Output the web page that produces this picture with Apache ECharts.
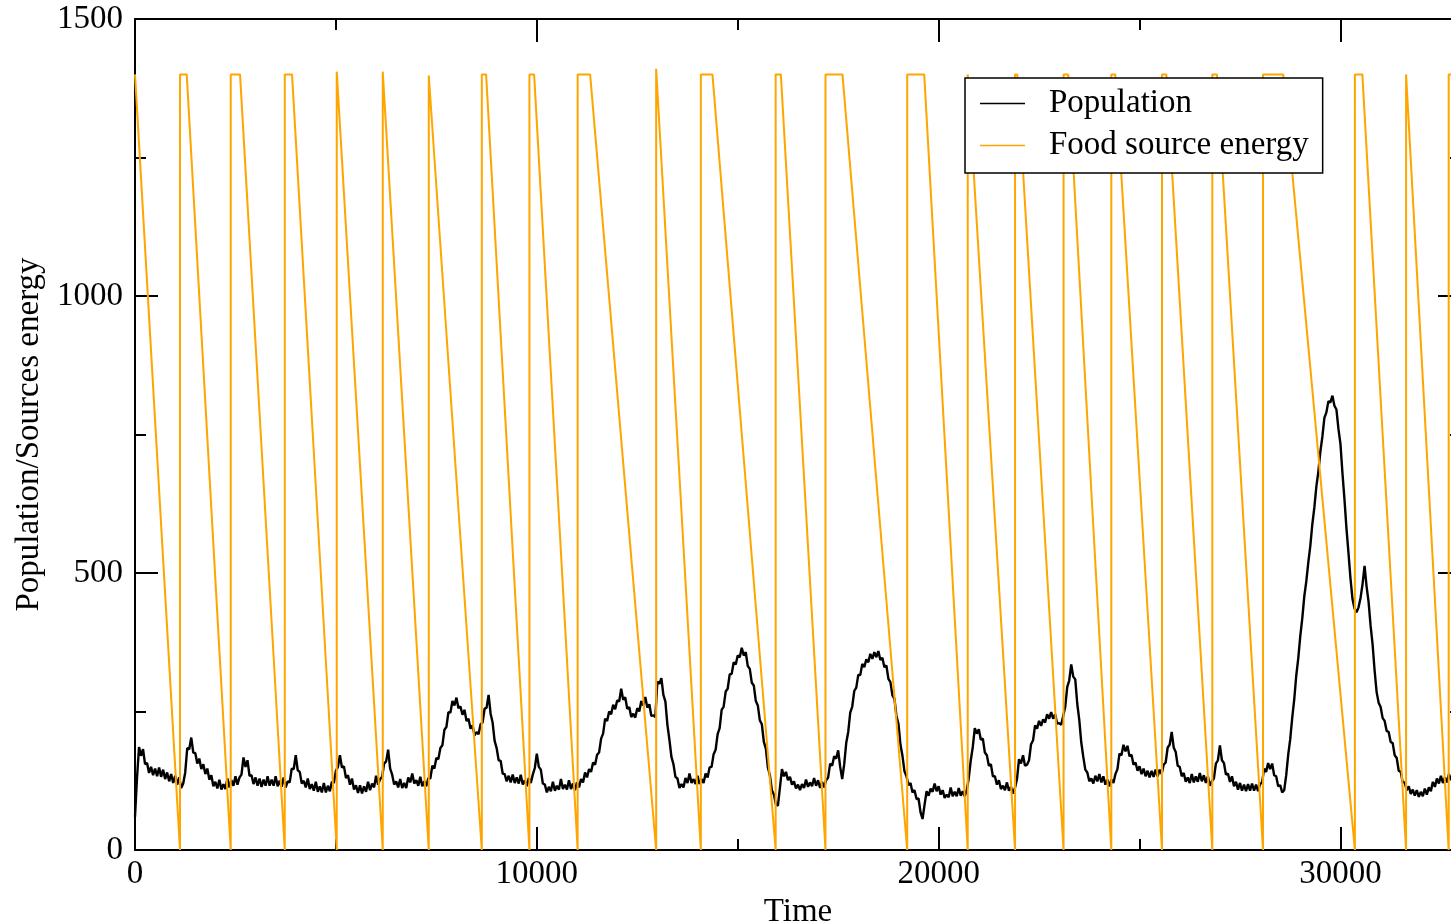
<!DOCTYPE html>
<html>
<head>
<meta charset="utf-8">
<script src="https://cdn.jsdelivr.net/npm/echarts@6/dist/echarts.min.js"></script>
<style>
  html, body { margin: 0; padding: 0; background: #fff; }
  #chart { width: 1451px; height: 924px; }
</style>
</head>
<body>
<div id="chart"></div>
<script>
// population, one value every popStep time units (noise band included)
const popStep = 50;
const popValues = [
  60, 130, 186, 170, 182, 155, 157, 139, 150, 135, 147, 133, 149, 132, 145, 128, 140, 124, 137, 121,
  134, 118, 131, 112, 120, 140, 184, 182, 203, 176, 175, 156, 165, 146, 155, 137, 147, 127, 135, 115,
  123, 111, 127, 109, 119, 110, 129, 113, 126, 116, 133, 118, 131, 136, 167, 150, 162, 134, 135, 119,
  131, 116, 129, 114, 127, 116, 133, 116, 127, 116, 133, 115, 125, 114, 131, 113, 124, 122, 147, 146,
  171, 144, 141, 120, 125, 113, 129, 110, 119, 107, 123, 105, 115, 104, 121, 104, 116, 106, 123, 121,
  143, 150, 171, 149, 151, 130, 135, 118, 129, 109, 117, 103, 117, 102, 115, 105, 123, 108, 120, 113,
  134, 118, 128, 132, 156, 160, 181, 147, 136, 118, 124, 113, 128, 112, 121, 112, 131, 122, 138, 120,
  126, 116, 132, 115, 124, 115, 130, 129, 152, 147, 166, 164, 184, 189, 217, 222, 249, 248, 269, 261,
  275, 256, 259, 244, 253, 233, 237, 219, 225, 207, 213, 209, 227, 230, 255, 257, 280, 246, 230, 197,
  184, 162, 161, 138, 137, 124, 134, 122, 136, 121, 131, 120, 136, 118, 126, 115, 130, 121, 136, 148,
  174, 150, 145, 120, 118, 104, 114, 106, 123, 107, 116, 109, 128, 110, 118, 109, 126, 110, 120, 108,
  122, 113, 128, 122, 140, 131, 146, 141, 158, 154, 172, 176, 201, 210, 237, 233, 250, 245, 262, 254,
  270, 268, 291, 271, 276, 255, 258, 240, 246, 239, 256, 250, 269, 261, 276, 257, 263, 242, 243, 240,
  304, 300, 310, 280, 268, 226, 199, 168, 155, 132, 129, 112, 119, 113, 130, 121, 138, 121, 128, 119,
  134, 119, 128, 121, 138, 131, 149, 150, 173, 181, 209, 220, 253, 259, 286, 291, 317, 318, 339, 335,
  351, 348, 365, 351, 357, 332, 327, 302, 297, 269, 261, 234, 227, 195, 183, 149, 135, 108, 100, 82,
  80, 112, 146, 133, 141, 126, 132, 118, 124, 111, 118, 108, 119, 112, 127, 114, 122, 115, 130, 116,
  126, 112, 123, 113, 126, 131, 156, 152, 169, 165, 180, 150, 128, 155, 193, 213, 248, 259, 287, 293,
  316, 316, 336, 330, 344, 339, 354, 345, 357, 348, 359, 343, 347, 330, 333, 309, 303, 279, 273, 242,
  228, 190, 170, 142, 133, 117, 121, 104, 108, 92, 93, 68, 56, 82, 106, 98, 111, 105, 120, 106,
  115, 100, 108, 94, 100, 95, 113, 97, 105, 97, 112, 98, 106, 97, 108, 130, 162, 186, 220, 210,
  218, 199, 201, 176, 171, 152, 155, 133, 133, 118, 126, 110, 116, 108, 122, 107, 114, 102, 112, 128,
  164, 156, 171, 152, 154, 162, 191, 198, 225, 219, 233, 224, 236, 230, 245, 237, 249, 237, 245, 228,
  229, 226, 242, 258, 294, 306, 335, 313, 308, 264, 235, 194, 168, 145, 140, 124, 129, 120, 134, 124,
  137, 122, 133, 118, 127, 115, 127, 121, 137, 146, 174, 171, 190, 178, 188, 169, 172, 154, 158, 143,
  151, 137, 147, 133, 143, 131, 143, 132, 145, 133, 145, 137, 154, 158, 185, 190, 213, 185, 177, 152,
  150, 133, 139, 123, 131, 121, 137, 122, 133, 123, 139, 124, 135, 121, 133, 116, 124, 129, 156, 162,
  189, 162, 157, 136, 138, 123, 133, 115, 123, 109, 121, 107, 118, 106, 119, 107, 120, 107, 118, 106,
  119, 122, 147, 141, 157, 146, 156, 135, 133, 115, 117, 104, 108, 135, 172, 200, 239, 272, 315, 346,
  386, 418, 458, 485, 519, 549, 588, 618, 656, 683, 719, 746, 780, 790, 810, 808, 820, 802, 795, 760,
  733, 680, 633, 580, 536, 490, 453, 436, 429, 438, 455, 480, 513, 476, 448, 405, 371, 324, 285, 266,
  258, 238, 233, 215, 213, 195, 193, 171, 166, 143, 141, 122, 122, 108, 115, 101, 109, 98, 108, 96,
  105, 97, 111, 100, 113, 106, 123, 114, 129, 120, 134, 121, 131, 122, 137, 126, 138
];

// food source: refilled at these times, stays full until plateauEnds, then runs down to 0
const refillTimes = [1120, 2382, 3727, 5021, 6166, 7311, 8631, 9816, 11016, 12970, 14082, 15944,
  17184, 19218, 20724, 21902, 23109, 24297, 25559, 26811, 28073, 30359, 31633, 32693];
// index 0 is the start (t=0), then one per refill
const plateauEnds = [0, 1287, 2614, 3908, 5021, 6166, 7311, 8738, 9933, 11327, 12970, 14371, 16073,
  17607, 19641, 20724, 21957, 23224, 24396, 25666, 26925, 28575, 30545, 31633, 32950];
const peakEnergy = [1400, 1400, 1400, 1400, 1405, 1405, 1398, 1400, 1400, 1400, 1410, 1400, 1400,
  1400, 1400, 1400, 1400, 1400, 1400, 1400, 1400, 1400, 1400, 1400, 1400];

const xTicks = [0, 10000, 20000, 30000];
const yTicks = [0, 500, 1000, 1500];

const popData = popValues.map((v, i) => [i * popStep, v]);

const energyData = [[plateauEnds[0], peakEnergy[0]]];
for (let k = 0; k < refillTimes.length; k++) {
  energyData.push([refillTimes[k], 0]);
  energyData.push([refillTimes[k], peakEnergy[k + 1]]);
  energyData.push([plateauEnds[k + 1], peakEnergy[k + 1]]);
}

const font = 'Liberation Serif';
const xMax = 33000;
const axisLine = { show: true, onZero: false, lineStyle: { color: '#000', width: 2 } };
const plain = v => String(v);

// main x axis + mirrored top one, and two extra for the minor ticks
function xAxisDef(pos, major) {
  return {
    type: 'value',
    position: pos,
    min: 0,
    max: xMax,
    interval: major ? xTicks[1] - xTicks[0] : (xTicks[1] - xTicks[0]) / 2,
    axisLine: major ? axisLine : { show: false, onZero: false },
    axisTick: { show: true, inside: true, length: major ? 23 : 11, lineStyle: { color: '#000', width: 2 } },
    axisLabel: {
      show: major && pos === 'bottom',
      showMaxLabel: false,
      formatter: plain,
      color: '#000',
      fontFamily: font,
      fontSize: 33,
      margin: 8
    },
    splitLine: { show: false },
    name: major && pos === 'bottom' ? 'Time' : '',
    nameLocation: 'middle',
    nameGap: 37,
    nameTextStyle: { color: '#000', fontFamily: font, fontSize: 33 }
  };
}

function yAxisDef(pos) {
  return {
    type: 'value',
    position: pos,
    min: yTicks[0],
    max: yTicks[yTicks.length - 1],
    interval: yTicks[1] - yTicks[0],
    axisLine: axisLine,
    axisTick: { show: true, inside: true, length: 23, lineStyle: { color: '#000', width: 2 } },
    minorTick: { show: true, splitNumber: 2, length: 11, lineStyle: { color: '#000', width: 2 } },
    axisLabel: {
      show: pos === 'left',
      formatter: plain,
      color: '#000',
      fontFamily: font,
      fontSize: 33,
      margin: 12
    },
    splitLine: { show: false },
    name: pos === 'left' ? 'Population/Sources energy' : '',
    nameLocation: 'middle',
    nameGap: 82,
    nameTextStyle: { color: '#000', fontFamily: font, fontSize: 33 }
  };
}

const option = {
  animation: false,
  backgroundColor: '#fff',
  textStyle: { fontFamily: font },
  grid: { left: 135, top: 19, bottom: 74, right: -10, outerBoundsMode: 'none', containLabel: false },
  legend: {
    orient: 'vertical',
    left: 965,
    top: 78,
    padding: [9, 14, 11, 15],
    itemGap: 9,
    itemWidth: 45,
    itemHeight: 1.5,
    backgroundColor: '#fff',
    borderColor: '#000',
    borderWidth: 1.5,
    borderRadius: 0,
    textStyle: { color: '#000', fontFamily: font, fontSize: 33, lineHeight: 33, padding: [0, 0, 0, 19] },
    data: [
      { name: 'Population', icon: 'rect' },
      { name: 'Food source energy', icon: 'rect' }
    ]
  },
  xAxis: [xAxisDef('bottom', true), xAxisDef('top', true), xAxisDef('bottom', false), xAxisDef('top', false)],
  yAxis: [yAxisDef('left'), yAxisDef('right')],
  series: [
    {
      name: 'Population',
      type: 'line',
      data: popData,
      showSymbol: false,
      color: '#000',
      lineStyle: { color: '#000', width: 2.4 }
    },
    {
      name: 'Food source energy',
      type: 'line',
      data: energyData,
      showSymbol: false,
      color: '#ffa500',
      lineStyle: { color: '#ffa500', width: 2 }
    }
  ]
};

const chart = echarts.init(document.getElementById('chart'));
chart.setOption(option);
</script>
</body>
</html>
